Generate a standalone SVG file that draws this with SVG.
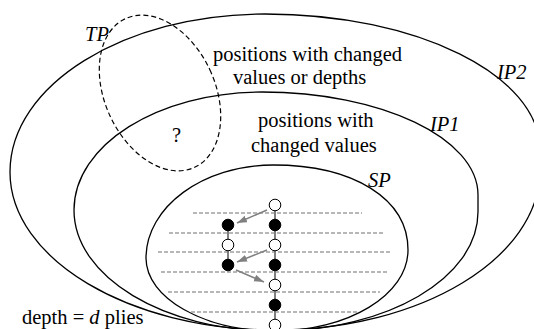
<svg xmlns="http://www.w3.org/2000/svg" width="534" height="329" viewBox="0 0 534 329">
<defs>
<style>
.set{fill:none;stroke:#000;stroke-width:1.3}
.tp{fill:none;stroke:#000;stroke-width:1.2;stroke-dasharray:5,3}
.ply{stroke:#a0a0a0;stroke-width:1.5;stroke-dasharray:4,2}
.link{stroke:#808080;stroke-width:2}
.arr{stroke:#808080;stroke-width:1.5;fill:none;marker-end:url(#ah)}
.o{fill:#fff;stroke:#000;stroke-width:1}
.f{fill:#000;stroke:#000;stroke-width:1}
text{font-family:"Liberation Serif","Times New Roman",serif;font-size:20.5px;fill:#000}
.i{font-style:italic}
</style>
<marker id="ah" markerUnits="userSpaceOnUse" markerWidth="11" markerHeight="8" refX="10" refY="3.5" orient="auto">
<path d="M0,0 L10,3.5 L0,7 z" fill="#808080"/>
</marker>
</defs>
<rect width="534" height="329" fill="#fff"/>
<g id="IP2">
<path class="set" d="M275,330 C129,330 10,259 10,172 C10,85 124,14 265,14 C417,14 540,75 540,150 L540,170 C540,258 421,330 275,330 Z"/>
<text class="i" x="497" y="79">IP2</text>
<text x="213" y="61">positions with changed</text>
<text x="233" y="84">values or depths</text>
</g>
<g id="IP1">
<path class="set" d="M275,331 C164,331 74,277 74,210 C74,145 158,92 262,92 C381,92 478,138 478,195 L478,212 C478,278 387,331 275,331 Z"/>
<text class="i" x="430" y="131">IP1</text>
<text x="258" y="127">positions with</text>
<text x="251" y="152">changed values</text>
</g>
<g id="SP">
<path class="set" d="M275,331 C204,331 146,298 146,258 C146,207 203,165 273,165 C354,165 408,199 408,250 C408,295 348,331 275,331 Z"/>
<text class="i" x="368" y="187">SP</text>
</g>
<g id="TP">
<ellipse class="tp" cx="160" cy="93" rx="55" ry="82" transform="rotate(-25 160 93)"/>
<text class="i" x="85" y="41">TP</text>
<text x="172" y="142">?</text>
</g>
<g id="plies">
<line class="ply" x1="193" y1="213" x2="362" y2="213"/>
<line class="ply" x1="169" y1="233" x2="383" y2="233"/>
<line class="ply" x1="158" y1="252" x2="392" y2="252"/>
<line class="ply" x1="161" y1="272" x2="389" y2="272"/>
<line class="ply" x1="168" y1="292" x2="380" y2="292"/>
<line class="ply" x1="191" y1="312" x2="357" y2="312"/>
</g>
<g id="connectors">
<line class="link" x1="275" y1="205" x2="275" y2="325"/>
<line class="link" x1="228" y1="225" x2="228" y2="265"/>
<line class="arr" x1="267" y1="210" x2="237" y2="223"/>
<line class="arr" x1="267" y1="250" x2="237" y2="262"/>
<line class="arr" x1="236" y1="270" x2="264" y2="282"/>
</g>
<g id="chain-right">
<circle class="o" cx="275" cy="205" r="5.8"/>
<circle class="f" cx="275" cy="225" r="5.8"/>
<circle class="o" cx="275" cy="245" r="5.8"/>
<circle class="f" cx="275" cy="265" r="5.8"/>
<circle class="o" cx="275" cy="285" r="5.8"/>
<circle class="f" cx="275" cy="305" r="5.8"/>
<circle class="o" cx="275" cy="325" r="5.8"/>
</g>
<g id="chain-left">
<circle class="f" cx="228" cy="225" r="5.8"/>
<circle class="o" cx="228" cy="245" r="5.8"/>
<circle class="f" cx="228" cy="265" r="5.8"/>
</g>
<g id="depth-label">
<text x="22" y="324">depth = <tspan class="i">d</tspan> plies</text>
</g>
</svg>
